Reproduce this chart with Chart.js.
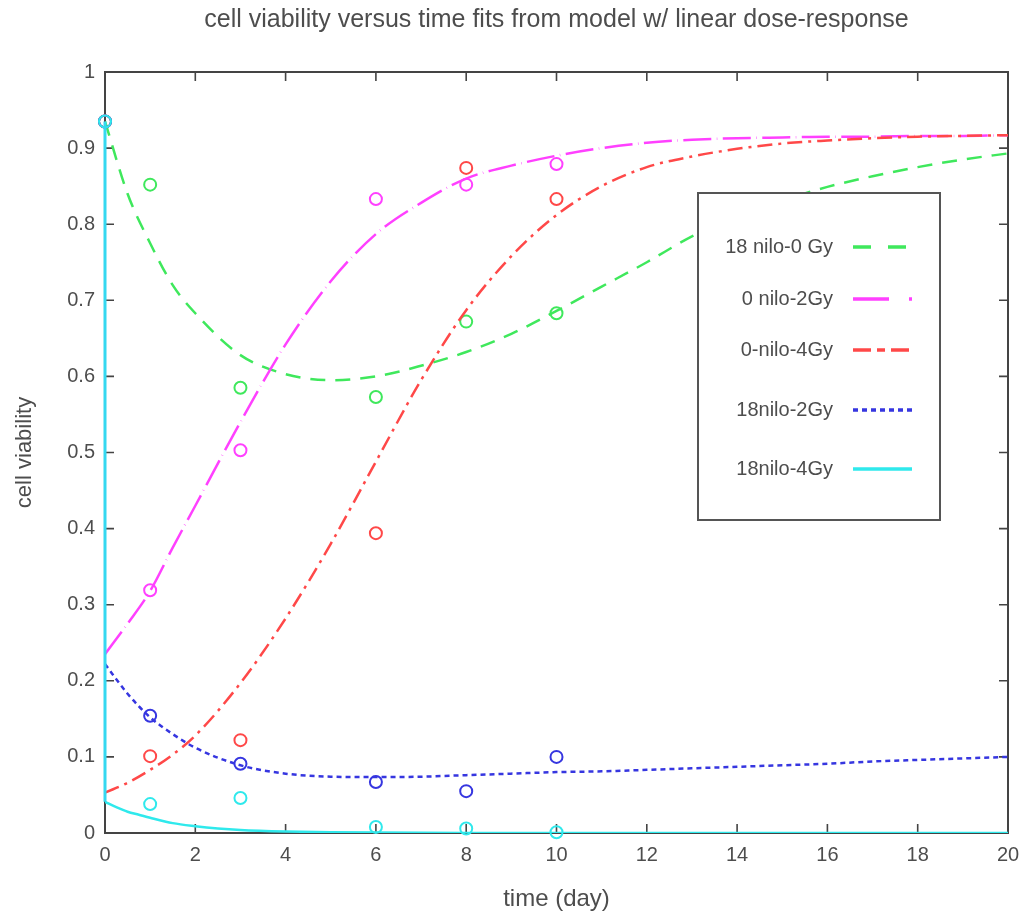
<!DOCTYPE html>
<html>
<head>
<meta charset="utf-8">
<script src="https://cdn.jsdelivr.net/npm/chart.js@4.4.1/dist/chart.umd.min.js"></script>
<style>
    html, body { margin: 0; padding: 0; background: #fff; }
    #wrap { width: 1023px; height: 915px; }
</style>
</head>
<body>
<div id="wrap"><canvas id="viabilityChart"></canvas></div>
<script>
// measured data (day, viability)
const dataDays = [0, 1, 3, 6, 8, 10];
const obsNilo18Gy0 = [0.935, 0.852, 0.585, 0.573, 0.672, 0.683];
const obsNilo0Gy2 = [0.935, 0.319, 0.503, 0.833, 0.852, 0.879];
const obsNilo0Gy4 = [0.935, 0.101, 0.122, 0.394, 0.874, 0.833];
const obsNilo18Gy2 = [0.935, 0.154, 0.091, 0.067, 0.055, 0.100];
const obsNilo18Gy4 = [0.935, 0.038, 0.046, 0.008, 0.006, 0.001];

// model fit curves
const fitDays = [0, 0.5, 1, 1.5, 2, 3, 4, 5, 6, 7, 8, 9, 10, 11, 12, 13, 14, 15, 16, 17, 18, 19, 20];
const fitNilo18Gy0 = [0.935, 0.84, 0.775, 0.72, 0.683, 0.628, 0.603, 0.595, 0.600, 0.614, 0.632, 0.656, 0.686, 0.718, 0.750, 0.784, 0.810, 0.831, 0.849, 0.863, 0.875, 0.885, 0.893];
const fitNilo0Gy2 = [0.235, 0.275, 0.318, 0.375, 0.43, 0.54, 0.642, 0.725, 0.787, 0.828, 0.860, 0.877, 0.890, 0.900, 0.907, 0.911, 0.913, 0.914, 0.915, 0.915, 0.916, 0.916, 0.917];
const fitNilo0Gy4 = [0.053, 0.066, 0.083, 0.103, 0.128, 0.197, 0.282, 0.38, 0.488, 0.595, 0.687, 0.758, 0.812, 0.850, 0.875, 0.889, 0.899, 0.906, 0.910, 0.913, 0.915, 0.916, 0.917];
const fitNilo18Gy2 = [0.222, 0.183, 0.152, 0.130, 0.112, 0.089, 0.078, 0.074, 0.0735, 0.074, 0.076, 0.078, 0.080, 0.081, 0.083, 0.085, 0.087, 0.089, 0.091, 0.094, 0.096, 0.098, 0.100];
const fitDaysGy4 = [0, 0.25, 0.5, 0.75, 1, 1.5, 2, 2.5, 3, 4, 5, 6, 8, 10, 20];
const fitNilo18Gy4 = [0.041, 0.034, 0.028, 0.024, 0.020, 0.013, 0.009, 0.006, 0.004, 0.002, 0.001, 0.0005, 0, 0, 0];
// instant drop at day 0 for the 18nilo-4Gy model
const dropDays = [0, 0];
const dropNilo18Gy4 = [0.935, 0.041];

const xTicks = [0, 2, 4, 6, 8, 10, 12, 14, 16, 18, 20];
const yTicks = [0, 0.1, 0.2, 0.3, 0.4, 0.5, 0.6, 0.7, 0.8, 0.9, 1];

const seriesNames = ["18 nilo-0 Gy", "0 nilo-2Gy", "0-nilo-4Gy", "18nilo-2Gy", "18nilo-4Gy"];
const seriesColors = ["#3fe85c", "#ff40ff", "#ff4848", "#3636e0", "#2fe9ec"];
const seriesDashes = [[15, 10], [28, 5.5, 0.5, 5.5], [15, 6, 3, 6], [5, 4], []];
const legendDashes = [[18, 17], [36, 20, 3, 20], [18, 6, 8, 6], [5, 4], []];

const textColor = "#4d4d4d";
const fontFamily = "'Liberation Sans', Arial, Helvetica, sans-serif";

const pairs = (xs, ys) => xs.map((x, i) => ({ x: x, y: ys[i] }));
const observed = [obsNilo18Gy0, obsNilo0Gy2, obsNilo0Gy4, obsNilo18Gy2, obsNilo18Gy4];
const fits = [
    pairs(fitDays, fitNilo18Gy0),
    pairs(fitDays, fitNilo0Gy2),
    pairs(fitDays, fitNilo0Gy4),
    pairs(fitDays, fitNilo18Gy2),
    pairs(fitDaysGy4, fitNilo18Gy4)
];

const datasets = [];
seriesNames.forEach((name, i) => {
    datasets.push({
        type: "line",
        label: name,
        data: fits[i],
        borderColor: seriesColors[i],
        borderWidth: 2.5,
        borderDash: seriesDashes[i],
        pointRadius: 0,
        fill: false,
        cubicInterpolationMode: "monotone",
        order: 10 - i * 2
    });
    datasets.push({
        type: "scatter",
        label: name + " data",
        data: pairs(dataDays, observed[i]),
        borderColor: seriesColors[i],
        backgroundColor: "rgba(0,0,0,0)",
        borderWidth: 2,
        pointRadius: 6,
        clip: false,
        order: 9 - i * 2
    });
});
datasets.push({
    type: "line",
    label: "18nilo-4Gy drop",
    data: pairs(dropDays, dropNilo18Gy4),
    borderColor: "#35d8f0",
    borderWidth: 3,
    pointRadius: 0,
    tension: 0,
    clip: false,
    order: 0
});

// box frame and inward ticks, drawn under the curves like the original
const framePlugin = {
    id: "frame",
    beforeDatasetsDraw(chart) {
        const { ctx, chartArea: a, scales } = chart;
        ctx.save();
        ctx.strokeStyle = "#444";
        ctx.lineWidth = 2;
        ctx.strokeRect(a.left, a.top, a.right - a.left, a.bottom - a.top);
        ctx.lineWidth = 1.6;
        ctx.beginPath();
        xTicks.forEach(v => {
            const px = scales.x.getPixelForValue(v);
            ctx.moveTo(px, a.bottom); ctx.lineTo(px, a.bottom - 9);
            ctx.moveTo(px, a.top); ctx.lineTo(px, a.top + 9);
        });
        yTicks.forEach(v => {
            const py = scales.y.getPixelForValue(v);
            ctx.moveTo(a.left, py); ctx.lineTo(a.left + 9, py);
            ctx.moveTo(a.right, py); ctx.lineTo(a.right - 9, py);
        });
        ctx.stroke();
        ctx.restore();
    },
    // framed legend on top
    afterDraw(chart) {
        const { ctx } = chart;
        ctx.save();
        const bx = 698, by = 193, bw = 242, bh = 327;
        ctx.fillStyle = "#fff";
        ctx.fillRect(bx, by, bw, bh);
        ctx.strokeStyle = "#555";
        ctx.lineWidth = 2;
        ctx.strokeRect(bx, by, bw, bh);
        const rows = [247, 299, 350, 410, 469];
        ctx.font = "20px " + fontFamily;
        ctx.textAlign = "right";
        ctx.textBaseline = "middle";
        seriesNames.forEach((name, i) => {
            ctx.fillStyle = textColor;
            ctx.fillText(name, 833, rows[i]);
            ctx.beginPath();
            ctx.strokeStyle = seriesColors[i];
            ctx.lineWidth = 3.5;
            ctx.setLineDash(legendDashes[i]);
            ctx.moveTo(853, rows[i]);
            ctx.lineTo(912, rows[i]);
            ctx.stroke();
        });
        ctx.restore();
    }
};

new Chart(document.getElementById("viabilityChart"), {
    data: { datasets: datasets },
    options: {
        responsive: true,
        maintainAspectRatio: false,
        animation: false,
        layout: { padding: { left: 0, right: 15, top: 0, bottom: 0 } },
        plugins: {
            legend: { display: false },
            tooltip: { enabled: false },
            title: {
                display: true,
                fullSize: false,
                text: "cell viability versus time fits from model w/ linear dose-response",
                color: textColor,
                font: { family: fontFamily, size: 25, weight: "normal", lineHeight: 1.2 },
                padding: { top: 5, bottom: 37 }
            }
        },
        scales: {
            x: {
                type: "linear",
                min: 0,
                max: 20,
                afterBuildTicks: s => { s.ticks = xTicks.map(v => ({ value: v })); },
                afterFit: s => { s.height = 82; s.paddingLeft = 0; s.paddingRight = 0; },
                grid: { display: false, drawTicks: false },
                border: { display: false },
                ticks: {
                    padding: 10,
                    color: textColor,
                    font: { family: fontFamily, size: 20 },
                    maxRotation: 0,
                    callback: v => String(v)
                },
                title: {
                    display: true,
                    text: "time (day)",
                    color: textColor,
                    font: { family: fontFamily, size: 24, lineHeight: 1.2 },
                    padding: { top: 0, bottom: 1 }
                }
            },
            y: {
                type: "linear",
                min: 0,
                max: 1,
                afterBuildTicks: s => { s.ticks = yTicks.map(v => ({ value: v })); },
                afterFit: s => { s.width = 105; },
                grid: { display: false, drawTicks: false },
                border: { display: false },
                ticks: {
                    padding: 10,
                    color: textColor,
                    font: { family: fontFamily, size: 20 },
                    callback: v => String(Math.round(v * 10) / 10)
                },
                title: {
                    display: true,
                    text: "cell viability",
                    color: textColor,
                    font: { family: fontFamily, size: 22, lineHeight: 1.2 },
                    padding: { top: 12, bottom: 0 }
                }
            }
        }
    },
    plugins: [framePlugin]
});
</script>
</body>
</html>
